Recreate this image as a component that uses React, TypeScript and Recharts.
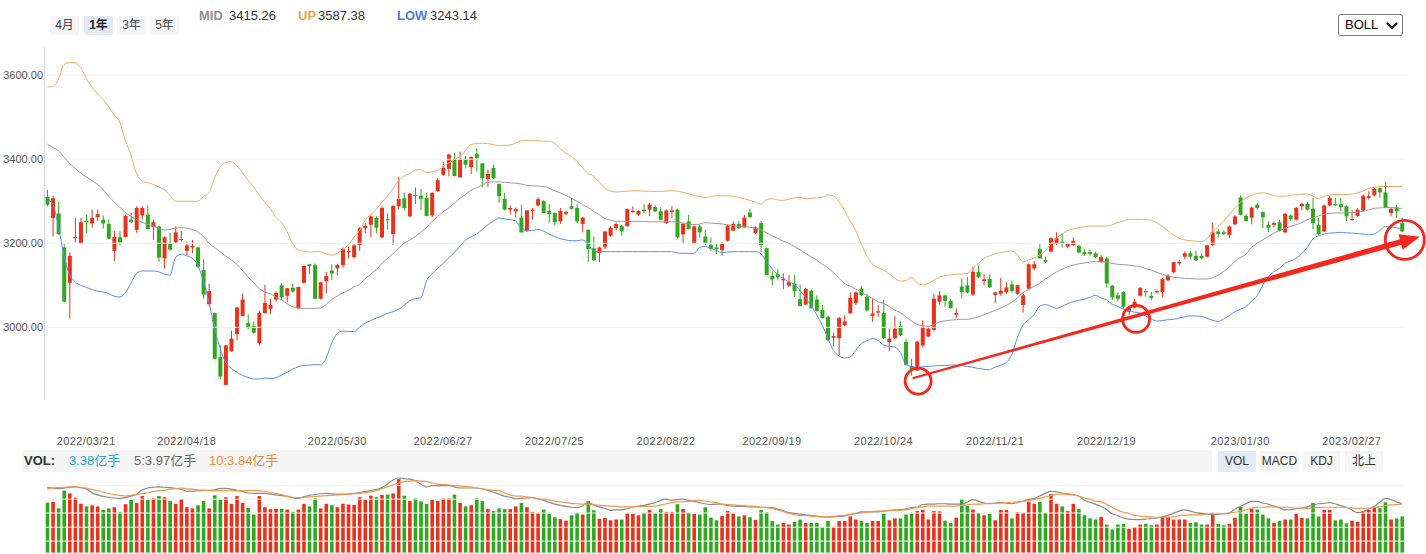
import React from 'react';
import { ComposedChart, Bar, Line, XAxis, YAxis, ReferenceLine, ReferenceDot } from 'recharts';

// ---- categories / tick labels ----
const tickIdx = [7, 25, 52, 71, 91, 111, 130, 150, 170, 190, 214, 234];
const tickLabels = ['2022/03/21', '2022/04/18', '2022/05/30', '2022/06/27', '2022/07/25', '2022/08/22', '2022/09/19', '2022/10/24', '2022/11/21', '2022/12/19', '2023/01/30', '2023/02/27'];
const priceTicks = [3000, 3200, 3400, 3600];
const volTicks = [2.53, 2.89, 3.26, 3.62, 3.98];

// ---- daily candles (2022/03/10 .. 2023/03/10) ----
const openArr = [
3310,3260,3271,3190,3106,3212,3199,3253,3247,3262,
3256,3246,3182,3214,3215,3256,3232,3266,3268,3238,
3240,3164,3199,3202,3208,3182,3190,3190,3136,3055,
3034,2929,2863,2943,2984,3027,3010,3003,2962,3034,
3044,3066,3100,3075,3094,3045,3106,3150,3148,3068,
3110,3135,3140,3148,3179,3167,3196,3236,3244,3260,
3214,3257,3222,3288,3307,3264,3315,3313,3308,3266,
3324,3363,3377,3399,3357,3401,3381,3413,3390,3353,
3379,3341,3306,3280,3276,3261,3230,3277,3290,3300,
3277,3272,3252,3270,3288,3284,3246,3232,3188,3177,
3192,3218,3236,3241,3241,3274,3268,3280,3280,3286,
3276,3248,3274,3280,3221,3252,3200,3240,3216,3196,
3190,3184,3206,3230,3246,3238,3273,3224,3248,3188,
3122,3126,3112,3099,3104,3067,3054,3087,3066,3041,
3025,2975,2974,3005,3033,3058,3092,3072,3027,3035,
3034,2965,2974,3003,2965,2908,2897,2957,2978,2994,
3061,3076,3063,3030,3097,3100,3078,3132,3110,3115,
3077,3080,3083,3102,3080,3053,3092,3140,3186,3160,
3180,3198,3204,3192,3196,3194,3179,3179,3176,3156,
3164,3099,3076,3084,3037,3047,3075,3086,3075,3083,
3084,3112,3131,3152,3168,3176,3170,3170,3168,3196,
3228,3226,3220,3245,3309,3265,3261,3292,3274,3244,
3244,3250,3226,3266,3256,3288,3294,3282,3244,3228,
3290,3293,3293,3288,3256,3265,3278,3308,3314,3331,
3321,3272,3285,3248];

const closeArr = [
3292,3307,3222,3061,3170,3215,3250,3250,3260,3269,
3247,3211,3215,3202,3265,3250,3284,3284,3234,3250,
3166,3214,3185,3226,3210,3195,3194,3144,3078,3086,
2925,2883,2957,2973,3047,3066,2998,2987,3034,3058,
3053,3082,3071,3093,3085,3096,3146,3146,3068,3107,
3122,3128,3148,3186,3182,3195,3236,3241,3264,3237,
3284,3255,3289,3305,3284,3318,3314,3306,3265,3320,
3350,3379,3411,3360,3399,3387,3405,3403,3355,3365,
3355,3312,3280,3284,3281,3226,3278,3280,3305,3272,
3269,3250,3277,3274,3282,3252,3261,3186,3160,3190,
3228,3237,3246,3228,3281,3277,3277,3276,3292,3276,
3256,3278,3278,3214,3246,3234,3240,3226,3200,3186,
3186,3198,3242,3246,3236,3261,3262,3238,3196,3124,
3114,3119,3116,3107,3086,3051,3091,3045,3039,3022,
2969,2979,3022,3014,3070,3083,3076,3040,3033,3038,
2974,2973,2997,2981,2911,2900,2966,3001,2997,3068,
3076,3063,3046,3034,3084,3083,3132,3119,3114,3095,
3083,3087,3095,3086,3100,3076,3150,3150,3164,3156,
3212,3212,3200,3198,3206,3178,3174,3175,3167,3167,
3104,3071,3068,3049,3045,3061,3094,3083,3070,3086,
3115,3123,3155,3156,3176,3168,3160,3164,3195,3226,
3222,3222,3240,3264,3268,3253,3285,3284,3262,3237,
3248,3230,3270,3258,3284,3294,3280,3248,3222,3290,
3308,3290,3286,3264,3258,3280,3313,3312,3329,3321,
3284,3282,3276,3228];

const highArr = [
3327,3314,3298,3198,3178,3260,3260,3269,3280,3280,
3266,3257,3229,3229,3268,3272,3288,3288,3290,3256,
3241,3216,3224,3240,3229,3204,3208,3191,3162,3104,
3035,2957,2958,2992,3048,3080,3031,3014,3039,3101,
3068,3085,3104,3094,3104,3097,3147,3151,3152,3108,
3132,3150,3151,3190,3192,3197,3238,3248,3266,3264,
3288,3272,3290,3358,3320,3319,3333,3329,3320,3321,
3355,3394,3413,3415,3418,3407,3407,3426,3391,3375,
3387,3342,3320,3290,3285,3292,3279,3284,3309,3302,
3293,3273,3284,3277,3308,3293,3263,3233,3216,3192,
3229,3240,3249,3243,3282,3288,3278,3293,3296,3290,
3286,3280,3288,3282,3249,3268,3241,3244,3232,3214,
3200,3203,3245,3252,3253,3268,3281,3240,3253,3190,
3134,3139,3128,3124,3124,3102,3094,3089,3076,3053,
3027,2987,3025,3029,3083,3085,3099,3080,3068,3053,
3065,2997,3027,3014,2973,2925,2968,3017,3001,3080,
3086,3078,3067,3045,3116,3120,3144,3147,3126,3126,
3085,3118,3107,3112,3101,3080,3152,3158,3198,3168,
3214,3226,3224,3200,3214,3196,3186,3186,3180,3172,
3168,3101,3083,3086,3049,3068,3096,3092,3084,3090,
3118,3126,3156,3160,3180,3182,3182,3176,3196,3250,
3233,3231,3242,3266,3314,3270,3287,3296,3276,3252,
3252,3256,3272,3269,3286,3296,3298,3309,3260,3292,
3312,3308,3308,3290,3280,3283,3316,3324,3332,3333,
3346,3284,3292,3261];

const lowArr = [
3288,3216,3220,3061,3021,3202,3198,3223,3237,3252,
3235,3210,3158,3195,3214,3248,3225,3256,3233,3208,
3156,3140,3182,3199,3204,3170,3176,3142,3068,3050,
2924,2877,2863,2942,2969,3026,2996,2985,2957,3033,
3032,3061,3065,3059,3083,3044,3104,3126,3067,3066,
3080,3112,3123,3142,3164,3164,3182,3224,3214,3224,
3212,3232,3196,3280,3278,3262,3293,3279,3264,3262,
3322,3361,3359,3359,3356,3378,3365,3371,3333,3333,
3353,3296,3278,3268,3261,3225,3227,3256,3288,3271,
3248,3242,3246,3266,3280,3248,3226,3155,3158,3155,
3186,3216,3232,3218,3239,3273,3265,3272,3265,3274,
3255,3246,3260,3212,3198,3233,3199,3213,3196,3182,
3174,3171,3204,3229,3234,3236,3261,3222,3180,3124,
3100,3112,3091,3096,3072,3049,3053,3045,3037,3021,
2967,2955,2934,3003,3033,3053,3074,3038,3013,3025,
2972,2943,2972,2979,2909,2885,2897,2953,2976,2992,
3054,3049,3044,3021,3068,3080,3075,3117,3100,3094,
3057,3075,3080,3083,3078,3035,3090,3136,3164,3152,
3178,3196,3190,3188,3194,3176,3170,3170,3164,3154,
3094,3065,3062,3045,3030,3045,3073,3073,3065,3080,
3072,3110,3128,3148,3162,3164,3158,3162,3166,3194,
3214,3220,3212,3243,3266,3251,3245,3280,3236,3226,
3238,3228,3224,3253,3254,3278,3278,3234,3220,3226,
3288,3289,3276,3253,3253,3263,3276,3304,3312,3308,
3283,3264,3260,3226];

// ---- BOLL bands ----
const upBand = [
3572,3573,3590,3625,3630,3630,3618,3592,3572,3556,
3542,3525,3505,3488,3445,3410,3366,3348,3344,3340,
3334,3328,3314,3300,3300,3300,3300,3300,3311,3320,
3355,3382,3392,3394,3385,3368,3350,3334,3316,3298,
3283,3262,3250,3228,3200,3184,3181,3179,3180,3180,
3175,3172,3176,3185,3196,3214,3230,3255,3268,3280,
3298,3312,3330,3348,3360,3366,3374,3375,3368,3370,
3373,3383,3391,3399,3406,3420,3435,3437,3438,3437,
3435,3432,3433,3434,3438,3444,3445,3445,3444,3443,
3443,3437,3425,3415,3407,3395,3380,3366,3360,3345,
3331,3325,3322,3323,3324,3325,3325,3324,3324,3323,
3323,3324,3325,3324,3321,3318,3314,3311,3309,3311,
3313,3313,3313,3312,3309,3306,3302,3298,3293,3304,
3306,3303,3302,3305,3308,3309,3306,3307,3308,3309,
3315,3313,3300,3278,3254,3230,3198,3170,3150,3142,
3136,3127,3117,3110,3111,3119,3106,3101,3104,3112,
3119,3123,3125,3126,3127,3128,3140,3152,3164,3170,
3175,3178,3180,3182,3172,3156,3160,3165,3172,3182,
3198,3212,3222,3230,3234,3237,3239,3241,3241,3241,
3241,3244,3249,3253,3257,3257,3257,3256,3255,3249,
3240,3230,3220,3212,3208,3206,3205,3204,3210,3226,
3240,3252,3268,3284,3297,3308,3314,3318,3320,3318,
3313,3312,3312,3314,3316,3317,3317,3312,3306,3312,
3314,3316,3316,3316,3317,3320,3324,3330,3333,3335,
3335,3335,3335,3335];

const midBand = [
3436,3428,3420,3405,3390,3378,3367,3358,3349,3340,
3328,3312,3298,3286,3273,3264,3256,3250,3245,3241,
3236,3232,3233,3236,3237,3236,3233,3227,3216,3200,
3190,3180,3170,3160,3150,3135,3120,3106,3092,3084,
3080,3072,3065,3056,3049,3046,3045,3045,3045,3046,
3054,3066,3074,3082,3088,3096,3102,3116,3126,3137,
3152,3164,3175,3188,3200,3207,3216,3226,3237,3251,
3263,3275,3284,3295,3307,3316,3326,3332,3338,3345,
3346,3346,3345,3344,3343,3341,3338,3337,3336,3335,
3331,3325,3320,3314,3307,3300,3292,3285,3276,3268,
3259,3255,3252,3252,3252,3252,3252,3252,3251,3251,
3251,3251,3251,3250,3248,3246,3244,3246,3249,3248,
3247,3246,3244,3242,3240,3239,3238,3236,3232,3225,
3218,3212,3205,3200,3192,3185,3176,3168,3160,3150,
3142,3130,3117,3104,3098,3091,3084,3076,3069,3061,
3057,3050,3041,3035,3025,3015,3007,3004,3002,3006,
3013,3015,3017,3018,3019,3019,3021,3025,3030,3035,
3040,3046,3052,3060,3070,3082,3090,3097,3105,3115,
3123,3132,3138,3144,3148,3151,3153,3155,3156,3156,
3155,3152,3150,3149,3148,3146,3144,3140,3136,3131,
3126,3122,3119,3118,3116,3116,3115,3115,3115,3118,
3124,3133,3143,3157,3166,3174,3190,3200,3208,3216,
3224,3230,3235,3240,3244,3249,3256,3260,3265,3269,
3271,3272,3272,3272,3273,3274,3276,3279,3283,3284,
3285,3285,3284,3283];

const lowBand = [
3304,3292,3240,3170,3125,3108,3100,3095,3090,3086,
3084,3080,3074,3072,3082,3105,3128,3134,3134,3134,
3132,3127,3124,3166,3174,3170,3164,3148,3110,3060,
2998,2950,2917,2902,2893,2886,2881,2877,2877,2879,
2878,2880,2886,2893,2900,2906,2909,2910,2911,2911,
2926,2962,2985,2991,2990,2990,3000,3010,3016,3022,
3027,3033,3037,3043,3052,3063,3068,3070,3110,3127,
3140,3152,3165,3178,3193,3207,3215,3222,3232,3244,
3252,3260,3258,3256,3253,3236,3230,3230,3233,3229,
3222,3216,3211,3208,3206,3206,3208,3197,3182,3180,
3180,3180,3180,3180,3180,3180,3180,3180,3180,3180,
3180,3180,3180,3177,3176,3176,3176,3190,3192,3188,
3183,3178,3179,3180,3180,3180,3180,3180,3175,3156,
3140,3125,3116,3108,3102,3088,3071,3052,3030,3005,
2975,2945,2932,2927,2929,2945,2961,2968,2973,2969,
2958,2955,2953,2940,2912,2907,2905,2906,2907,2908,
2909,2909,2910,2910,2909,2907,2905,2902,2900,2899,
2905,2910,2916,2935,2975,3005,3018,3030,3050,3054,
3050,3045,3050,3056,3061,3064,3067,3071,3076,3070,
3065,3055,3050,3043,3040,3036,3034,3027,3020,3015,
3016,3018,3019,3022,3025,3027,3027,3026,3021,3017,
3014,3020,3028,3037,3043,3049,3062,3075,3100,3120,
3132,3140,3152,3158,3164,3175,3190,3210,3218,3222,
3224,3225,3226,3225,3224,3223,3222,3220,3222,3230,
3240,3238,3237,3232];

// ---- volume (亿手) and its moving averages ----
const volArr = [
3.53,3.55,3.38,3.84,3.77,3.66,3.50,3.43,3.46,3.43,
3.34,3.38,3.41,3.29,3.49,3.60,3.52,3.70,3.60,3.64,
3.70,3.67,3.57,3.50,3.62,3.41,3.38,3.46,3.57,3.38,
3.72,3.60,3.67,3.50,3.70,3.52,3.39,3.22,3.70,3.41,
3.36,3.37,3.37,3.35,3.29,3.35,3.50,3.43,3.64,3.38,
3.50,3.46,3.41,3.50,3.48,3.47,3.67,3.60,3.71,3.67,
3.73,3.74,3.77,4.14,3.71,3.57,3.64,3.56,3.50,3.60,
3.57,3.64,3.64,3.74,3.52,3.43,3.46,3.64,3.57,3.36,
3.31,3.38,3.36,3.36,3.43,3.52,3.41,3.29,3.25,3.35,
3.24,3.15,3.10,3.06,3.20,3.26,3.22,3.57,3.33,3.11,
3.13,3.07,3.09,3.09,3.25,3.24,3.20,3.26,3.34,3.25,
3.36,3.29,3.29,3.49,3.36,3.26,3.24,3.22,3.41,3.14,
3.07,3.18,3.31,3.25,3.17,3.20,3.15,3.08,3.34,3.28,
3.05,2.96,3.00,2.96,3.03,3.09,3.00,3.00,3.00,2.90,
3.05,2.90,3.05,3.05,3.17,3.09,3.05,3.00,3.05,3.05,
3.24,3.07,3.12,3.12,3.22,3.24,3.31,3.34,3.09,3.31,
3.30,3.06,3.00,3.14,3.62,3.45,3.35,3.26,3.20,3.24,
3.07,3.34,3.34,3.12,3.28,3.26,3.55,3.50,3.55,3.26,
3.75,3.50,3.43,3.31,3.50,3.36,3.20,3.12,3.09,3.16,
2.96,2.83,2.96,2.98,2.85,2.89,2.96,2.98,2.94,2.96,
3.16,3.16,3.09,3.09,3.09,3.00,3.02,2.96,2.96,3.25,
2.98,2.94,2.98,3.14,3.42,3.24,3.38,3.35,3.22,3.12,
3.00,3.05,3.09,3.09,3.24,3.13,3.12,3.52,3.17,3.34,
3.34,3.07,3.09,2.99,3.06,3.03,3.31,3.34,3.41,3.38,
3.54,3.09,3.12,3.17];

const ma5Arr = [
3.92,3.91,3.89,3.91,3.93,3.94,3.92,3.88,3.79,3.73,
3.69,3.67,3.65,3.64,3.66,3.70,3.75,3.86,3.91,3.93,
3.94,3.93,3.92,3.90,3.88,3.83,3.83,3.84,3.85,3.85,
3.86,3.90,3.90,3.88,3.85,3.82,3.78,3.77,3.77,3.77,
3.75,3.73,3.71,3.69,3.66,3.64,3.68,3.72,3.74,3.76,
3.77,3.76,3.75,3.75,3.75,3.77,3.79,3.82,3.84,3.87,
3.92,4.01,4.12,4.17,4.15,4.14,4.10,4.01,3.94,3.97,
3.97,3.97,3.97,3.94,3.91,3.91,3.91,3.91,3.89,3.85,
3.80,3.75,3.70,3.67,3.63,3.64,3.65,3.66,3.63,3.59,
3.54,3.49,3.46,3.43,3.41,3.40,3.45,3.54,3.47,3.42,
3.38,3.33,3.34,3.34,3.37,3.41,3.44,3.46,3.49,3.53,
3.59,3.62,3.59,3.61,3.62,3.59,3.56,3.53,3.50,3.48,
3.49,3.49,3.45,3.44,3.43,3.43,3.42,3.42,3.41,3.41,
3.40,3.36,3.32,3.27,3.25,3.23,3.21,3.20,3.18,3.16,
3.15,3.16,3.17,3.18,3.22,3.25,3.29,3.29,3.29,3.29,
3.31,3.33,3.34,3.35,3.37,3.40,3.41,3.48,3.49,3.49,
3.50,3.50,3.49,3.49,3.49,3.54,3.61,3.57,3.52,3.50,
3.52,3.53,3.52,3.50,3.53,3.57,3.61,3.64,3.70,3.77,
3.82,3.81,3.78,3.76,3.74,3.70,3.59,3.54,3.49,3.43,
3.35,3.24,3.19,3.13,3.10,3.09,3.09,3.10,3.12,3.13,
3.16,3.20,3.25,3.31,3.34,3.31,3.27,3.25,3.23,3.22,
3.23,3.24,3.26,3.36,3.43,3.50,3.56,3.56,3.52,3.49,
3.44,3.40,3.34,3.35,3.37,3.39,3.42,3.46,3.50,3.51,
3.53,3.50,3.45,3.41,3.34,3.27,3.29,3.36,3.43,3.54,
3.64,3.61,3.55,3.50];

const ma10Arr = [
3.88,3.91,3.92,3.93,3.94,3.94,3.93,3.91,3.87,3.84,
3.80,3.77,3.74,3.72,3.70,3.72,3.74,3.76,3.78,3.82,
3.84,3.85,3.88,3.89,3.91,3.89,3.88,3.86,3.85,3.84,
3.84,3.84,3.84,3.85,3.84,3.84,3.84,3.84,3.84,3.82,
3.79,3.77,3.74,3.70,3.67,3.66,3.67,3.68,3.69,3.70,
3.71,3.72,3.73,3.74,3.75,3.76,3.77,3.79,3.81,3.84,
3.89,3.94,3.99,4.04,4.08,4.09,4.10,4.09,4.08,4.04,
4.01,4.00,3.99,3.97,3.96,3.95,3.94,3.91,3.89,3.87,
3.85,3.84,3.78,3.73,3.70,3.70,3.68,3.66,3.63,3.62,
3.60,3.57,3.55,3.53,3.51,3.50,3.49,3.49,3.47,3.46,
3.45,3.44,3.43,3.42,3.42,3.42,3.43,3.43,3.43,3.44,
3.47,3.50,3.53,3.55,3.55,3.56,3.58,3.59,3.57,3.55,
3.53,3.49,3.48,3.47,3.46,3.45,3.44,3.43,3.41,3.40,
3.38,3.34,3.30,3.25,3.22,3.20,3.19,3.18,3.17,3.16,
3.16,3.17,3.19,3.20,3.22,3.24,3.26,3.28,3.30,3.31,
3.31,3.32,3.33,3.33,3.34,3.37,3.40,3.42,3.44,3.44,
3.44,3.44,3.44,3.44,3.45,3.47,3.49,3.49,3.50,3.51,
3.51,3.52,3.53,3.54,3.55,3.56,3.58,3.61,3.64,3.68,
3.71,3.75,3.75,3.74,3.73,3.70,3.65,3.62,3.57,3.55,
3.49,3.41,3.34,3.28,3.25,3.20,3.18,3.17,3.16,3.15,
3.15,3.15,3.16,3.19,3.20,3.21,3.21,3.22,3.23,3.24,
3.24,3.24,3.26,3.28,3.31,3.34,3.39,3.41,3.41,3.42,
3.42,3.41,3.41,3.40,3.39,3.39,3.38,3.39,3.40,3.41,
3.41,3.41,3.41,3.40,3.39,3.38,3.38,3.39,3.41,3.42,
3.45,3.47,3.48,3.49];

// ---- header values ----
const bollHeader = { mid: '3415.26', up: '3587.38', low: '3243.14' };
const volHeader = { v: '3.38亿手', m5: '5:3.97亿手', m10: '10:3.84亿手' };
const periodButtons = ['4月', '1年', '3年', '5年'];
const indicatorButtons = ['VOL', 'MACD', 'KDJ', '北上'];

const data = openArr.map((o, i) => ({
  i,
  open: o,
  close: closeArr[i],
  high: highArr[i],
  low: lowArr[i],
  up: upBand[i],
  mid: midBand[i],
  lowB: lowBand[i],
  vol: volArr[i],
  ma5: ma5Arr[i],
  ma10: ma10Arr[i],
}));

const RED = '#e8321c';
const GREEN = '#2fa81e';
const ANNO = '#f4281c';
const FONT = 'Arial, "Liberation Sans", "Noto Sans CJK SC", sans-serif';

function Candle(props: any) {
  const { x, y, width, height, payload } = props;
  if (x == null || y == null || !payload) return null;
  const { open, close, high, low } = payload;
  const color = close >= open ? RED : GREEN;
  const cx = x + width / 2;
  const span = high - low;
  const py = (v: number) => (span === 0 ? y : y + ((high - v) / span) * height);
  const top = py(Math.max(open, close));
  const bot = py(Math.min(open, close));
  const bw = 4;
  return (
    <g>
      <line x1={cx} x2={cx} y1={y} y2={y + height} stroke={color} strokeWidth={1} />
      <rect x={cx - bw / 2} y={top} width={bw} height={Math.max(bot - top, 1)} fill={color} />
    </g>
  );
}

function VolBar(props: any) {
  const { x, y, width, height, payload } = props;
  if (x == null || y == null || !payload) return null;
  const color = payload.close >= payload.open ? RED : GREEN;
  const cx = x + width / 2;
  return <rect x={cx - 1.8} y={y} width={3.6} height={Math.max(height, 0)} fill={color} />;
}

function XTick(props: any) {
  const { x, y, payload } = props;
  const k = tickIdx.indexOf(payload?.value);
  if (k < 0) return <g />;
  return (
    <text x={x} y={y} dy="0.71em" textAnchor="middle" fill="#555" fontSize={11} letterSpacing={0.4} fontFamily={FONT}>
      {tickLabels[k]}
    </text>
  );
}

function Arrow(props: any) {
  const { x1, y1, x2, y2 } = props;
  if ([x1, y1, x2, y2].some((v) => v == null || Number.isNaN(v))) return <g />;
  const dx = x2 - x1;
  const dy = y2 - y1;
  const len = Math.hypot(dx, dy) || 1;
  const ux = dx / len;
  const uy = dy / len;
  const nx = -uy;
  const ny = ux;
  const headLen = 20;
  const headHalf = 8;
  const w0 = 1;
  const w1 = 2.8;
  const bx = x2 - ux * headLen;
  const by = y2 - uy * headLen;
  const pts = [
    [x1 + nx * w0, y1 + ny * w0],
    [bx + nx * w1, by + ny * w1],
    [bx + nx * headHalf, by + ny * headHalf],
    [x2, y2],
    [bx - nx * headHalf, by - ny * headHalf],
    [bx - nx * w1, by - ny * w1],
    [x1 - nx * w0, y1 - ny * w0],
  ];
  return <polygon points={pts.map((p) => p.join(',')).join(' ')} fill={ANNO} />;
}

const abs = (s: React.CSSProperties): React.CSSProperties => ({ position: 'absolute', ...s });

export default function App() {
  return (
    <div style={abs({ left: 0, top: 0, width: 1426, height: 554, overflow: 'hidden', background: '#fff', fontFamily: FONT, color: '#333' })}>
      {/* main candle chart */}
      <div style={abs({ left: 0, top: 0 })}>
        <ComposedChart width={1426} height={450} data={data} margin={{ top: 47, right: 21.2, bottom: 0, left: 0 }} barCategoryGap={0}>
          <XAxis dataKey="i" type="category" interval={0} tickLine={false} axisLine={false} tickSize={0} tickMargin={37} height={50} tick={<XTick />} />
          <XAxis xAxisId="ann" type="number" dataKey="i" domain={[-0.5, 243.5]} hide />
          <YAxis
            domain={[2827, 3667]}
            ticks={priceTicks}
            width={44.5}
            tickSize={0}
            tickMargin={1.5}
            tickLine={false}
            axisLine={{ stroke: '#cfd8e6' }}
            tick={{ fill: '#555', fontSize: 11, fontFamily: FONT }}
            tickFormatter={(v: number) => v.toFixed(2)}
            allowDataOverflow
          />
          {priceTicks.map((v) => (
            <ReferenceLine key={v} y={v} stroke="#eef0f5" strokeWidth={1} />
          ))}
          <Bar dataKey={(d: any) => [d.low, d.high]} shape={<Candle />} isAnimationActive={false} />
          <Line type="monotone" dataKey="up" stroke="#f2ab63" strokeWidth={1} dot={false} activeDot={false} isAnimationActive={false} />
          <Line type="monotone" dataKey="mid" stroke="#a39797" strokeWidth={1} dot={false} activeDot={false} isAnimationActive={false} />
          <Line type="monotone" dataKey="lowB" stroke="#5b8cf0" strokeWidth={1} dot={false} activeDot={false} isAnimationActive={false} />
          <ReferenceLine xAxisId="ann" segment={[{ x: 155.2, y: 2878.6 }, { x: 246.2, y: 3215.7 }]} ifOverflow="visible" shape={Arrow} />
          <ReferenceDot xAxisId="ann" x={156.2} y={2872} r={13} fill="none" stroke={ANNO} strokeWidth={2.8} ifOverflow="visible" />
          <ReferenceDot xAxisId="ann" x={195.3} y={3020} r={13.5} fill="none" stroke={ANNO} strokeWidth={2.8} ifOverflow="visible" />
          <ReferenceDot xAxisId="ann" x={243.5} y={3208} r={19.5} fill="none" stroke={ANNO} strokeWidth={2.8} ifOverflow="visible" />
        </ComposedChart>
      </div>

      {/* volume chart */}
      <div style={abs({ left: 0, top: 473 })}>
        <ComposedChart width={1426} height={81} data={data} margin={{ top: 0, right: 21.2, bottom: 1, left: 44.5 }} barCategoryGap={0}>
          <XAxis dataKey="i" hide />
          <YAxis domain={[2.22, 4.3]} ticks={volTicks} hide allowDataOverflow />
          {volTicks.map((v) => (
            <ReferenceLine key={v} y={v} stroke="#f0f1f4" strokeWidth={1} />
          ))}
          <ReferenceLine y={2.22} stroke="#dfe4ec" />
          <Bar dataKey="vol" shape={<VolBar />} isAnimationActive={false} />
          <Line type="monotone" dataKey="ma5" stroke="#8a8a8a" strokeWidth={1.2} dot={false} activeDot={false} isAnimationActive={false} />
          <Line type="monotone" dataKey="ma10" stroke="#f3994a" strokeWidth={1.2} dot={false} activeDot={false} isAnimationActive={false} />
        </ComposedChart>
      </div>

      {/* period buttons */}
      {periodButtons.map((t, k) => (
        <div
          key={t}
          style={abs({
            left: [50, 84, 117, 150][k],
            top: 16,
            width: 29,
            height: 19,
            lineHeight: '19px',
            textAlign: 'center',
            fontSize: 12,
            borderRadius: 2,
            background: k === 1 ? '#e4ebf6' : '#f4f5f7',
            fontWeight: k === 1 ? 700 : 400,
            color: k === 1 ? '#222' : '#444',
          })}
        >
          {t}
        </div>
      ))}

      {/* BOLL header */}
      <div style={abs({ left: 199, top: 8, fontSize: 13, lineHeight: '16px', fontWeight: 700, color: '#9b8d8d' })}>MID</div>
      <div style={abs({ left: 229, top: 8, fontSize: 13, lineHeight: '16px', color: '#333' })}>{bollHeader.mid}</div>
      <div style={abs({ left: 298, top: 8, fontSize: 13, lineHeight: '16px', fontWeight: 700, color: '#e9a24c' })}>UP</div>
      <div style={abs({ left: 318, top: 8, fontSize: 13, lineHeight: '16px', color: '#333' })}>{bollHeader.up}</div>
      <div style={abs({ left: 397, top: 8, fontSize: 13, lineHeight: '16px', fontWeight: 700, color: '#4a7ce6' })}>LOW</div>
      <div style={abs({ left: 430, top: 8, fontSize: 13, lineHeight: '16px', color: '#333' })}>{bollHeader.low}</div>

      {/* BOLL select */}
      <div
        style={abs({
          left: 1338,
          top: 14,
          width: 65,
          height: 22,
          boxSizing: 'border-box',
          border: '1px solid #767676',
          borderRadius: 3,
          background: '#fff',
          fontSize: 13,
          lineHeight: '20px',
          paddingLeft: 6,
          color: '#000',
        })}
      >
        BOLL
        <svg width={12} height={8} style={{ position: 'absolute', left: 47, top: 7 }}>
          <polyline points="1,1 6,6 11,1" fill="none" stroke="#000" strokeWidth={2} />
        </svg>
      </div>

      {/* VOL row */}
      <div style={abs({ left: 22, top: 450, width: 1190, height: 22, background: '#f5f5f5' })} />
      <div style={abs({ left: 24, top: 450, fontSize: 13, lineHeight: '22px', fontWeight: 700, color: '#333' })}>VOL:</div>
      <div style={abs({ left: 69, top: 450, fontSize: 13, lineHeight: '22px', color: '#23a3d8' })}>{volHeader.v}</div>
      <div style={abs({ left: 134, top: 450, fontSize: 13, lineHeight: '22px', color: '#666' })}>{volHeader.m5}</div>
      <div style={abs({ left: 209, top: 450, fontSize: 13, lineHeight: '22px', color: '#f08c35' })}>{volHeader.m10}</div>

      {indicatorButtons.map((t, k) => (
        <div
          key={t}
          style={abs({
            left: [1218, 1260, 1303, 1345][k],
            top: 451,
            width: [38, 39, 37, 38][k],
            height: 21,
            lineHeight: '21px',
            textAlign: 'center',
            fontSize: 12,
            background: k === 0 ? '#e3ebf6' : '#f5f5f5',
            color: '#333',
          })}
        >
          {t}
        </div>
      ))}
    </div>
  );
}
